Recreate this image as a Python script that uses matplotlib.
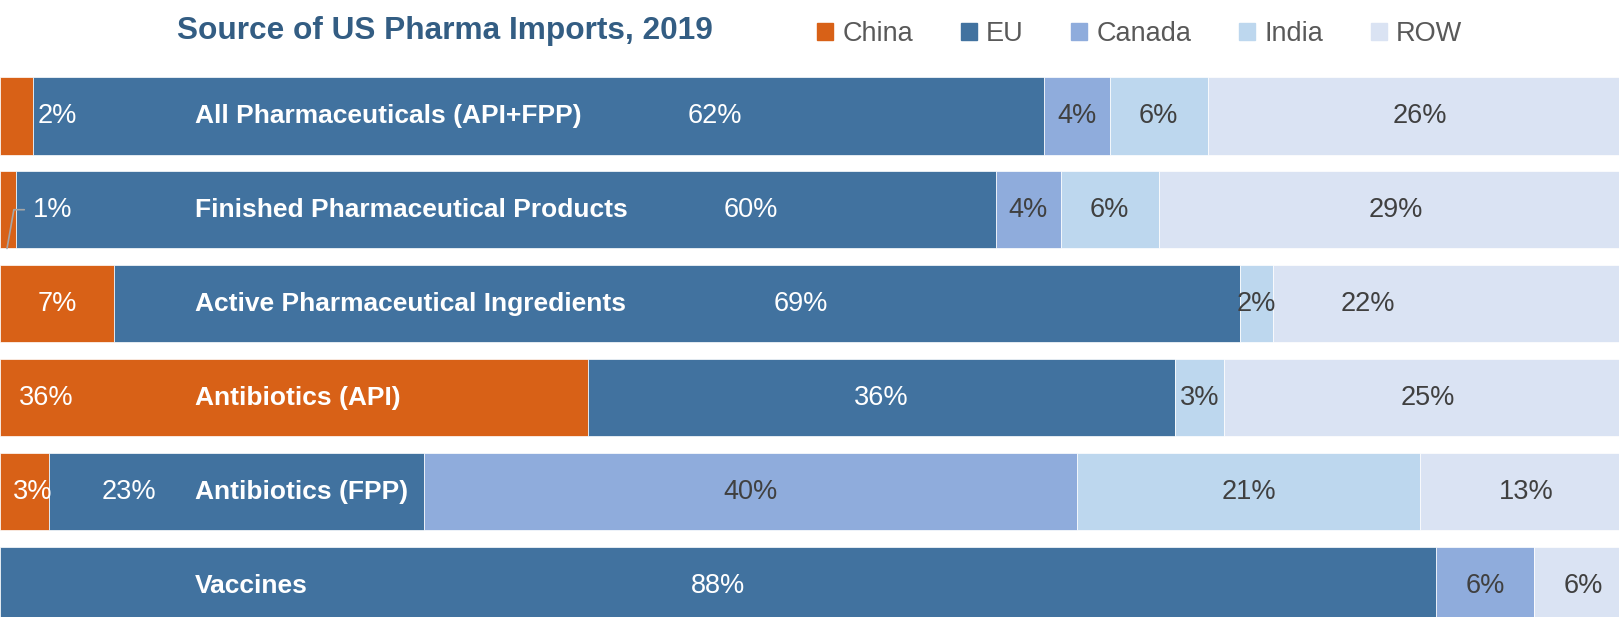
import numpy as np
import matplotlib.pyplot as plt
from matplotlib.patches import Rectangle

# Data (share of US imports, %)
categories = ['All Pharmaceuticals (API+FPP)', 'Finished Pharmaceutical Products',
              'Active Pharmaceutical Ingredients', 'Antibiotics (API)',
              'Antibiotics (FPP)', 'Vaccines']
sources = ['China', 'EU', 'Canada', 'India', 'ROW']
china = [2, 1, 7, 36, 3, 0]
eu = [62, 60, 69, 36, 23, 88]
canada = [4, 4, 0, 0, 40, 6]
india = [6, 6, 2, 3, 21, 0]
row = [26, 29, 22, 25, 13, 6]

colors = ['#D86117', '#41729F', '#8FACDC', '#BDD7EE', '#DAE3F3']
label_colors = ['white', 'white', '#404040', '#404040', '#404040']

# label positions moved by hand in the original (row, series) -> x
label_x = {(0, 0): 3.5, (0, 1): 43.8, (1, 1): 46.0, (2, 1): 49.1, (2, 4): 83.8,
           (3, 0): 2.85, (4, 0): 2.0, (4, 1): 7.9}

plt.rcParams['font.family'] = ['Liberation Sans', 'DejaVu Sans']

fig = plt.figure(figsize=(16.19, 6.17), dpi=100)
ax = fig.add_axes([0, 0, 1, 1])

data = np.array([china, eu, canada, india, row], dtype=float)
y = np.arange(len(categories))
h = 0.825
left = np.zeros(len(categories))
for k, name in enumerate(sources):
    ax.barh(y, data[k], left=left, height=h, color=colors[k],
            edgecolor='white', linewidth=0.5, label=name)
    for i in range(len(categories)):
        v = data[k, i]
        if v <= 0:
            continue
        if (i, k) == (1, 0):
            # tiny slice gets a leader line
            ax.annotate('1%', xy=(0.43, y[i] + h / 2), xytext=(2.0, y[i]),
                        fontsize=19.5, color='white', va='center', ha='left',
                        arrowprops=dict(arrowstyle='-', color='#A6A6A6', lw=1.2,
                                        shrinkA=4, shrinkB=0,
                                        connectionstyle='angle,angleA=0,angleB=80,rad=0'))
            continue
        x = label_x.get((i, k), left[i] + v / 2)
        ax.text(x, y[i], f'{v:.0f}%', ha='center', va='center',
                fontsize=19.5, color=label_colors[k])
    left += data[k]

for i, c in enumerate(categories):
    ax.text(11.95, y[i], c, ha='left', va='center', fontsize=19,
            fontweight='bold', color='white')

ax.set_xlim(0, 100 * 1619 / 1632)
ax.set_ylim(5.335, -1.232)
ax.axis('off')

fig.text(177 / 1619, 1 - 31 / 617, 'Source of US Pharma Imports, 2019',
         fontsize=22.8, fontweight='bold', color='#335D83', ha='left', va='center')

handles = [Rectangle((0, 0), 1, 1, color=c) for c in colors]
fig.legend(handles, sources, loc='center left', bbox_to_anchor=(817 / 1619, 1 - 34 / 617),
           ncol=5, frameon=False, fontsize=19.5, handlelength=0.59, handleheight=0.59,
           handletextpad=0.35, columnspacing=1.75, borderpad=0, borderaxespad=0,
           labelcolor='#595959')

fig.savefig('out.png', dpi=100)
